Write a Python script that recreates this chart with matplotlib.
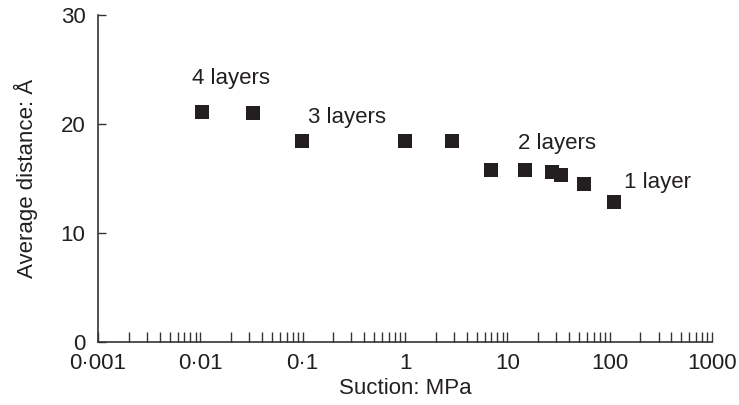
import matplotlib
matplotlib.use("Agg")
import matplotlib.pyplot as plt
from matplotlib.ticker import LogLocator, FixedLocator, NullFormatter

plt.rcParams['font.family'] = ['Liberation Sans', 'DejaVu Sans']

# suction (MPa) vs average interlayer distance (Angstrom)
suction = [0.0104, 0.0325, 0.099, 1.0, 2.9, 6.9, 15.0, 27.5, 33.5, 56.0, 110.0]
distance = [21.1, 21.0, 18.4, 18.4, 18.4, 15.8, 15.8, 15.6, 15.3, 14.5, 12.8]

layer_labels = ["4 layers", "3 layers", "2 layers", "1 layer"]
label_x = [0.0082, 0.113, 12.8, 138.0]
label_y = [24.2, 20.6, 18.2, 14.6]

xticks = [0.001, 0.01, 0.1, 1, 10, 100, 1000]
xticklabels = ["0\u00b7001", "0\u00b701", "0\u00b71", "1", "10", "100", "1000"]
yticks = [0, 10, 20, 30]

ink = "#231f20"
fs = 16

fig = plt.figure(figsize=(7.39, 4.05), dpi=100)
ax = fig.add_axes([0.1326, 0.1556, 0.8309, 0.8074])

ax.plot(suction, distance, linestyle="none", marker="s", markersize=10.5,
        color=ink, markeredgewidth=0)

for txt, tx, ty in zip(layer_labels, label_x, label_y):
    ax.text(tx, ty, txt, fontsize=fs, color=ink, va="center", ha="left")

ax.set_xscale("log")
ax.set_xlim(0.001, 1000)
ax.set_ylim(0, 30)
ax.xaxis.set_major_locator(FixedLocator(xticks))
ax.set_xticklabels(xticklabels)
ax.xaxis.set_minor_locator(LogLocator(base=10, subs=range(2, 10), numticks=20))
ax.xaxis.set_minor_formatter(NullFormatter())
ax.set_yticks(yticks)

ax.spines["top"].set_visible(False)
ax.spines["right"].set_visible(False)
for s in ("left", "bottom"):
    ax.spines[s].set_color("#333333")
    ax.spines[s].set_linewidth(1.2)

ax.tick_params(axis="x", which="both", direction="in", length=7, width=1,
               color="#333333", labelsize=fs, labelcolor=ink, pad=8)
ax.tick_params(axis="y", which="major", direction="in", length=6, width=1,
               color="#333333", labelsize=fs, labelcolor=ink, pad=9)

ax.set_xlabel("Suction: MPa", fontsize=fs, color=ink, labelpad=3)
ax.set_ylabel("Average distance: \u00c5", fontsize=fs, color=ink, labelpad=16)

fig.savefig("out.png", dpi=100)
